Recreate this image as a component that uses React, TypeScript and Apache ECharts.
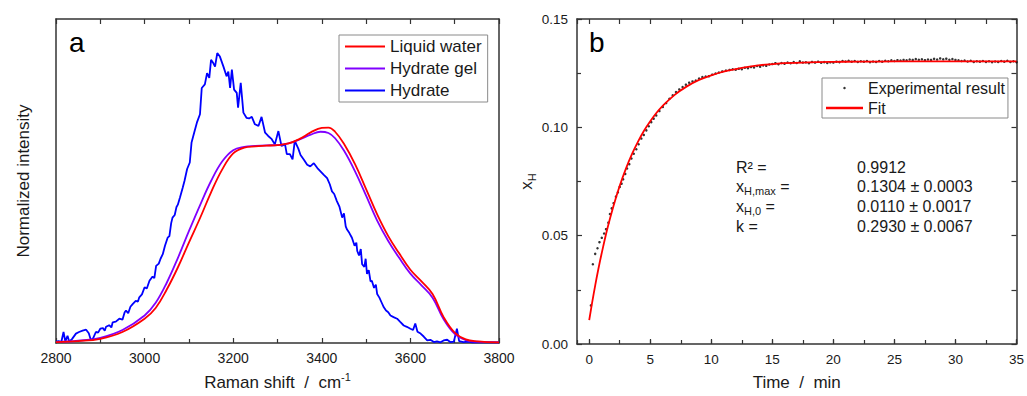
import React, { useEffect, useRef } from "react";
import * as echarts from "echarts";

const FONT = "'Liberation Sans', Arial, Helvetica, sans-serif";
const AXIS_COLOR = "#333333";
const TEXT_COLOR = "#1a1a1a";

// ---------- Panel a : Raman spectra (wavenumber cm-1, normalized intensity) ----------
const liquidWater: [number, number][] = [
  [2800, 0.003], [2850, 0.006], [2900, 0.013], [2950, 0.034], [3000, 0.075], [3025, 0.108],
  [3050, 0.165], [3075, 0.233], [3100, 0.31], [3125, 0.385], [3150, 0.465], [3175, 0.535],
  [3200, 0.585], [3225, 0.603], [3250, 0.607], [3275, 0.609], [3300, 0.611], [3325, 0.616],
  [3350, 0.63], [3375, 0.65], [3400, 0.664], [3415, 0.665], [3430, 0.652], [3450, 0.615],
  [3475, 0.552], [3500, 0.475], [3525, 0.397], [3550, 0.33], [3575, 0.276], [3600, 0.226],
  [3625, 0.19], [3650, 0.151], [3675, 0.08], [3700, 0.032], [3725, 0.011], [3750, 0.005],
  [3800, 0.002],
];

const hydrateGel: [number, number][] = [
  [2800, 0.003], [2850, 0.007], [2900, 0.016], [2950, 0.04], [3000, 0.085], [3025, 0.124],
  [3050, 0.186], [3075, 0.262], [3100, 0.345], [3125, 0.425], [3150, 0.5], [3175, 0.56],
  [3200, 0.595], [3225, 0.605], [3250, 0.608], [3275, 0.61], [3300, 0.611], [3325, 0.616],
  [3350, 0.628], [3375, 0.643], [3397, 0.652], [3415, 0.648], [3430, 0.632], [3450, 0.594],
  [3475, 0.53], [3500, 0.455], [3525, 0.378], [3550, 0.315], [3575, 0.262], [3600, 0.214],
  [3625, 0.178], [3650, 0.14], [3675, 0.073], [3700, 0.028], [3725, 0.009], [3750, 0.004],
  [3800, 0.002],
];

const hydrate: [number, number][] = [
  [2800, 0.004], [2806, 0.006], [2812, 0.003], [2817, 0.034], [2821, 0.005], [2826, 0.022],
  [2830, 0.004], [2836, 0.012], [2845, 0.029], [2852, 0.034], [2860, 0.038], [2868, 0.041],
  [2874, 0.03], [2879, 0.008], [2884, 0.015], [2890, 0.034], [2895, 0.032], [2900, 0.044],
  [2906, 0.046], [2910, 0.038], [2913, 0.05], [2920, 0.055], [2925, 0.048], [2928, 0.064],
  [2935, 0.066], [2943, 0.075], [2950, 0.072], [2955, 0.095], [2958, 0.1], [2963, 0.092],
  [2968, 0.112], [2973, 0.12], [2980, 0.13], [2985, 0.128], [2988, 0.141], [2994, 0.15],
  [3000, 0.172], [3005, 0.168], [3011, 0.192], [3018, 0.205], [3022, 0.2], [3026, 0.238],
  [3032, 0.245], [3036, 0.26], [3041, 0.274], [3046, 0.3], [3052, 0.325], [3056, 0.33],
  [3060, 0.37], [3063, 0.387], [3068, 0.395], [3072, 0.42], [3075, 0.427], [3080, 0.45],
  [3086, 0.479], [3090, 0.5], [3096, 0.537], [3102, 0.557], [3106, 0.619], [3112, 0.65],
  [3118, 0.68], [3125, 0.706], [3129, 0.787], [3136, 0.798], [3141, 0.833], [3146, 0.818],
  [3150, 0.874], [3155, 0.864], [3159, 0.853], [3164, 0.895], [3170, 0.884], [3178, 0.853],
  [3185, 0.823], [3189, 0.838], [3193, 0.787], [3197, 0.844], [3202, 0.782], [3208, 0.772],
  [3211, 0.726], [3217, 0.803], [3223, 0.711], [3230, 0.695], [3236, 0.693], [3242, 0.698],
  [3249, 0.675], [3257, 0.67], [3264, 0.698], [3272, 0.649], [3279, 0.639], [3287, 0.629],
  [3294, 0.613], [3302, 0.654], [3309, 0.608], [3317, 0.613], [3321, 0.583], [3328, 0.583],
  [3334, 0.567], [3339, 0.624], [3347, 0.6], [3352, 0.58], [3360, 0.565], [3367, 0.55],
  [3374, 0.545], [3382, 0.555], [3390, 0.54], [3397, 0.53], [3404, 0.52], [3412, 0.509],
  [3418, 0.49], [3423, 0.468], [3428, 0.46], [3434, 0.438], [3440, 0.42], [3446, 0.387],
  [3450, 0.4], [3454, 0.36], [3457, 0.35], [3462, 0.34], [3468, 0.325], [3474, 0.3],
  [3478, 0.31], [3480, 0.284], [3484, 0.27], [3488, 0.29], [3491, 0.243], [3496, 0.235],
  [3499, 0.26], [3502, 0.213], [3506, 0.225], [3510, 0.19], [3513, 0.192], [3518, 0.17],
  [3522, 0.18], [3525, 0.151], [3530, 0.14], [3535, 0.125], [3540, 0.11], [3545, 0.1],
  [3550, 0.095], [3555, 0.085], [3562, 0.08], [3570, 0.075], [3577, 0.065], [3585, 0.054],
  [3592, 0.05], [3600, 0.044], [3606, 0.04], [3611, 0.06], [3616, 0.035], [3623, 0.029],
  [3630, 0.02], [3638, 0.008], [3645, 0.01], [3653, 0.003], [3660, 0.005], [3668, 0.002],
  [3675, 0.008], [3683, 0.01], [3690, 0.003], [3698, 0.004], [3705, 0.044], [3710, 0.006],
  [3720, 0.003], [3730, 0.004], [3740, 0.002], [3760, 0.003], [3780, 0.002], [3800, 0.002],
];

// ---------- Panel b : hydrate fraction vs time ----------
const experimental: [number, number][] = [
  [0.14, 0.0178], [0.3, 0.0368], [0.49, 0.0416], [0.68, 0.0442], [0.84, 0.047], [1.03, 0.049],
  [1.22, 0.051], [1.38, 0.053], [1.57, 0.056], [1.7, 0.06], [1.84, 0.0626], [2.0, 0.065],
  [2.19, 0.068], [2.35, 0.07], [2.5, 0.0725], [2.65, 0.074], [2.78, 0.076], [2.95, 0.0785],
  [3.1, 0.081], [3.28, 0.083], [3.46, 0.0856], [3.65, 0.0878], [3.86, 0.0899], [4.05, 0.0922],
  [4.27, 0.0948], [4.47, 0.0965], [4.68, 0.0986], [4.88, 0.1005], [5.08, 0.1024], [5.28, 0.104],
  [5.49, 0.1055], [5.75, 0.1075], [6.03, 0.1094], [6.3, 0.1112], [6.57, 0.1132], [6.84, 0.1148],
  [7.11, 0.1163], [7.38, 0.1175], [7.65, 0.1186], [7.92, 0.1197], [8.19, 0.1206], [8.46, 0.1212],
  [8.73, 0.1216], [9.0, 0.1225], [9.27, 0.1232], [9.54, 0.1234], [9.81, 0.1236], [10.08, 0.1243],
  [10.35, 0.1248], [10.62, 0.1253], [10.9, 0.1258], [11.2, 0.1262], [11.5, 0.1265], [11.75, 0.1268],
  [12.0, 0.1266], [12.25, 0.127], [12.5, 0.1268], [12.75, 0.1275], [13.0, 0.1273], [13.25, 0.1278],
  [13.5, 0.1276], [13.75, 0.1283], [14.0, 0.128], [14.25, 0.1286], [14.5, 0.1284], [14.75, 0.129],
  [15.0, 0.1292], [15.25, 0.1296], [15.5, 0.1291], [15.75, 0.1297], [16.0, 0.1294], [16.25, 0.1299],
  [16.5, 0.1296], [16.75, 0.1301], [17.0, 0.1297], [17.25, 0.1305], [17.5, 0.1299], [17.75, 0.13],
  [18.0, 0.1296], [18.25, 0.1302], [18.5, 0.1299], [18.75, 0.1303], [19.0, 0.1298], [19.25, 0.1301],
  [19.5, 0.1297], [19.75, 0.13], [20.0, 0.1299], [20.25, 0.1303], [20.5, 0.1301], [20.75, 0.1306],
  [21.0, 0.1304], [21.25, 0.1307], [21.5, 0.1303], [21.75, 0.1306], [22.0, 0.1302], [22.25, 0.1305],
  [22.5, 0.1303], [22.75, 0.1306], [23.0, 0.1301], [23.25, 0.1304], [23.5, 0.1302], [23.75, 0.1306],
  [24.0, 0.1303], [24.25, 0.1307], [24.5, 0.1305], [24.75, 0.1309], [25.0, 0.1306], [25.25, 0.131],
  [25.5, 0.1308], [25.75, 0.1311], [26.0, 0.1309], [26.25, 0.1313], [26.5, 0.1311], [26.75, 0.1315],
  [27.0, 0.1312], [27.25, 0.1314], [27.5, 0.131], [27.75, 0.1313], [28.0, 0.1311], [28.25, 0.1316],
  [28.5, 0.1313], [28.75, 0.1318], [29.0, 0.1314], [29.25, 0.1317], [29.5, 0.1312], [29.75, 0.1315],
  [30.0, 0.1311], [30.25, 0.1309], [30.5, 0.1306], [30.75, 0.1308], [31.0, 0.1304], [31.25, 0.1307],
  [31.5, 0.1302], [31.75, 0.1305], [32.0, 0.1303], [32.25, 0.1306], [32.5, 0.1302], [32.75, 0.1305],
  [33.0, 0.1301], [33.25, 0.1304], [33.5, 0.1302], [33.75, 0.1306], [34.0, 0.1303], [34.25, 0.1307],
  [34.5, 0.1302], [34.75, 0.1305], [35.0, 0.1301],
];

const fit: [number, number][] = [
  [0, 0.011], [0.25, 0.0194], [0.5, 0.0273], [0.75, 0.0346], [1, 0.0413], [1.5, 0.0535],
  [2, 0.0639], [2.5, 0.073], [3, 0.0808], [3.5, 0.0876], [4, 0.0934], [4.5, 0.0985],
  [5, 0.1028], [5.5, 0.1066], [6, 0.1098], [7, 0.115], [8, 0.1189], [9, 0.1219],
  [10, 0.124], [11, 0.1257], [12, 0.1269], [13, 0.1279], [14, 0.1287], [15, 0.1292],
  [16, 0.1296], [18, 0.13], [20, 0.1302], [22, 0.1303], [25, 0.1304], [30, 0.1304], [35, 0.1304],
];

const fitLabels = ["R² =", "x{s|H,max} =", "x{s|H,0} =", "k ="];
const fitValues = ["0.9912", "0.1304 ± 0.0003", "0.0110 ± 0.0017", "0.2930 ± 0.0067"];

const axisLine = { show: true, onZero: false, lineStyle: { color: AXIS_COLOR, width: 1.5 } };
const tickStyle = { lineStyle: { color: AXIS_COLOR, width: 1.2 } };
const labelStyle = { color: TEXT_COLOR, fontFamily: FONT };

export default function App() {
  const ref = useRef<HTMLDivElement>(null);

  useEffect(() => {
    if (!ref.current) return;
    const chart = echarts.init(ref.current, undefined, { renderer: "svg" });

    const option: any = {
      animation: false,
      backgroundColor: "#ffffff",
      textStyle: { fontFamily: FONT },
      grid: [
        { left: 56, right: 528, top: 19, bottom: 51 },
        { left: 577, right: 6, top: 19, bottom: 51 },
      ],
      xAxis: [
        {
          gridIndex: 0, type: "value", position: "bottom", min: 2800, max: 3800, interval: 200,
          axisLine, axisTick: { show: true, inside: true, length: 5, ...tickStyle },
          minorTick: { show: true, splitNumber: 2, length: 4, ...tickStyle },
          splitLine: { show: false },
          axisLabel: { ...labelStyle, fontSize: 14, margin: 8, formatter: (v: number) => String(v) },
          name: "{n|Raman shift  /  cm}{sup|-1}", nameLocation: "middle", nameGap: 28,
          nameTextStyle: {
            rich: {
              n: { fontSize: 17, fontFamily: FONT, color: TEXT_COLOR, lineHeight: 20, verticalAlign: "bottom" },
              sup: { fontSize: 11, fontFamily: FONT, color: TEXT_COLOR, lineHeight: 11, verticalAlign: "top" },
            },
          },
        },
        {
          gridIndex: 0, type: "value", position: "top", min: 2800, max: 3800, interval: 100,
          axisLine, axisTick: { show: true, inside: true, length: 5, ...tickStyle },
          splitLine: { show: false }, axisLabel: { show: false },
        },
        {
          gridIndex: 1, type: "value", position: "bottom", min: -1, max: 35, splitNumber: 7,
          minInterval: 5, maxInterval: 5,
          axisLine, axisTick: { show: true, inside: true, length: 5, ...tickStyle },
          splitLine: { show: false },
          axisLabel: { ...labelStyle, fontSize: 13.5, margin: 8, showMinLabel: false },
          name: "Time  /  min", nameLocation: "middle", nameGap: 30,
          nameTextStyle: { fontSize: 17, fontFamily: FONT, color: TEXT_COLOR },
        },
        {
          gridIndex: 1, type: "value", position: "bottom", min: -1, max: 35, splitNumber: 14,
          minInterval: 2.5, maxInterval: 2.5,
          axisLine: { show: false }, axisTick: { show: true, inside: true, length: 4, ...tickStyle },
          splitLine: { show: false }, axisLabel: { show: false },
        },
        {
          gridIndex: 1, type: "value", position: "top", min: -1, max: 35, splitNumber: 14,
          minInterval: 2.5, maxInterval: 2.5,
          axisLine, axisTick: { show: true, inside: true, length: 5, ...tickStyle },
          splitLine: { show: false }, axisLabel: { show: false },
        },
      ],
      yAxis: [
        {
          gridIndex: 0, type: "value", position: "left", min: 0, max: 1,
          axisLine, axisTick: { show: false }, axisLabel: { show: false }, splitLine: { show: false },
          name: "Normalized intensity", nameLocation: "middle", nameGap: 24,
          nameTextStyle: { fontSize: 17, fontFamily: FONT, color: TEXT_COLOR },
        },
        {
          gridIndex: 0, type: "value", position: "right", min: 0, max: 1,
          axisLine, axisTick: { show: false }, axisLabel: { show: false }, splitLine: { show: false },
        },
        {
          gridIndex: 1, type: "value", position: "left", min: 0, max: 0.15, interval: 0.05,
          axisLine, axisTick: { show: true, inside: true, length: 5, ...tickStyle },
          minorTick: { show: true, splitNumber: 2, length: 4, ...tickStyle },
          splitLine: { show: false },
          axisLabel: { ...labelStyle, fontSize: 13.5, margin: 9, formatter: (v: number) => v.toFixed(2) },
          name: "{x|x}{s|H}", nameLocation: "middle", nameGap: 40,
          nameTextStyle: {
            rich: {
              x: { fontSize: 17, fontFamily: FONT, color: TEXT_COLOR, lineHeight: 22 },
              s: { fontSize: 11, fontFamily: FONT, color: TEXT_COLOR, lineHeight: 11, verticalAlign: "bottom" },
            },
          },
        },
        {
          gridIndex: 1, type: "value", position: "right", min: 0, max: 0.15, interval: 0.025,
          axisLine, axisTick: { show: true, inside: true, length: 5, ...tickStyle },
          splitLine: { show: false }, axisLabel: { show: false },
        },
      ],
      legend: [
        {
          orient: "vertical", left: 339, top: 35, itemWidth: 40, itemHeight: 2, itemGap: 5,
          padding: [3, 6, 3, 6], borderColor: "#8a8a8a", borderWidth: 1,
          icon: "rect",
          data: ["Liquid water", "Hydrate gel", "Hydrate"],
          textStyle: { fontSize: 17, fontFamily: FONT, color: TEXT_COLOR },
        },
        {
          orient: "vertical", left: 822, top: 78, itemWidth: 37, itemHeight: 2.5, itemGap: 4,
          padding: [2, 3, 2, 4], borderColor: "#8a8a8a", borderWidth: 1,
          data: [
            { name: "Experimental result", icon: "circle" },
            { name: "Fit", icon: "rect" },
          ],
          textStyle: { fontSize: 16, fontFamily: FONT, color: TEXT_COLOR },
        },
      ],
      series: [
        {
          type: "line", name: "Hydrate", xAxisIndex: 0, yAxisIndex: 0, data: hydrate,
          symbol: "none", lineStyle: { color: "#0000ff", width: 1.8 }, itemStyle: { color: "#0000ff" }, z: 2,
        },
        {
          type: "line", name: "Hydrate gel", xAxisIndex: 0, yAxisIndex: 0, data: hydrateGel, smooth: 0.4,
          symbol: "none", lineStyle: { color: "#8000ff", width: 1.8 }, itemStyle: { color: "#8000ff" }, z: 3,
        },
        {
          type: "line", name: "Liquid water", xAxisIndex: 0, yAxisIndex: 0, data: liquidWater, smooth: 0.4,
          symbol: "none", lineStyle: { color: "#ff0000", width: 1.8 }, itemStyle: { color: "#ff0000" }, z: 4,
        },
        {
          type: "scatter", name: "Experimental result", xAxisIndex: 2, yAxisIndex: 2, data: experimental,
          symbol: "circle", symbolSize: 2.5, itemStyle: { color: "#000000" }, z: 2,
        },
        {
          type: "line", name: "Fit", xAxisIndex: 2, yAxisIndex: 2, data: fit, smooth: 0.4,
          symbol: "none", lineStyle: { color: "#ff0000", width: 1.8 }, itemStyle: { color: "#ff0000" }, z: 3,
        },
      ],
      graphic: [
        { type: "text", x: 69, y: 28, style: { text: "a", font: `28px ${FONT}`, fill: "#000", verticalAlign: "top" } },
        { type: "text", x: 589, y: 28, style: { text: "b", font: `28px ${FONT}`, fill: "#000", verticalAlign: "top" } },
        ...fitLabels.map((t, i) => ({
          type: "text", x: 736, y: 167 + i * 19.7,
          style: {
            text: t, verticalAlign: "middle", fill: TEXT_COLOR, font: `16px ${FONT}`,
            rich: {
              s: { fontSize: 11, fontFamily: FONT, fill: TEXT_COLOR, lineHeight: 11, verticalAlign: "bottom" },
            },
            lineHeight: 20,
          },
        })),
        ...fitValues.map((t, i) => ({
          type: "text", x: 857, y: 167 + i * 19.7,
          style: { text: t, verticalAlign: "middle", fill: TEXT_COLOR, font: `16px ${FONT}` },
        })),
      ],
    };

    chart.setOption(option);
    return () => chart.dispose();
  }, []);

  return (
    <div
      ref={ref}
      style={{ position: "fixed", left: 0, top: 0, width: 1027, height: 396, background: "#fff" }}
    />
  );
}
